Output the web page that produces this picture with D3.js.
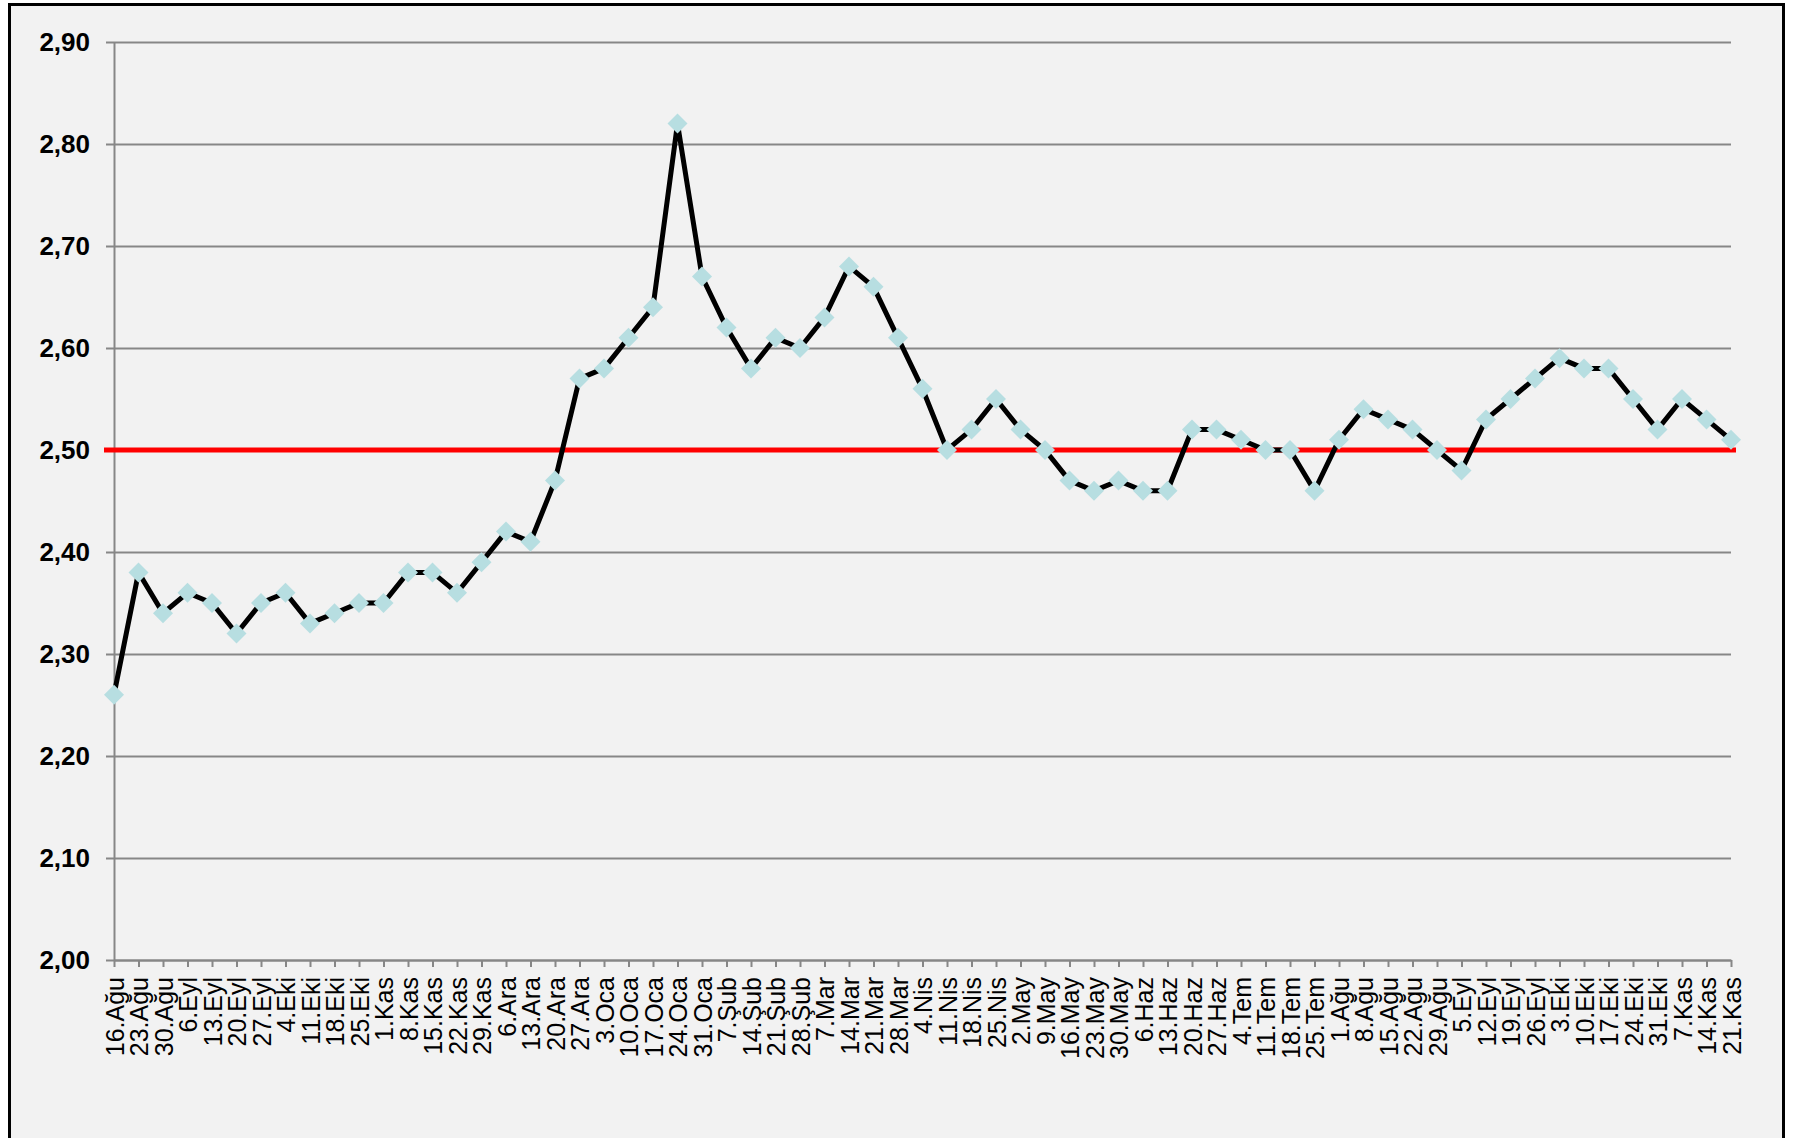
<!DOCTYPE html>
<html>
<head>
<meta charset="utf-8">
<script src="https://cdn.jsdelivr.net/npm/d3@7"></script>
<style>
  body { margin: 0; background: #fff; }
  svg { display: block; }
</style>
</head>
<body>
<svg id="chart" width="1795" height="1138"></svg>
<script>

var weeks = [
  "16.Ağu", "23.Ağu", "30.Ağu", "6.Eyl", "13.Eyl", "20.Eyl", "27.Eyl",
  "4.Eki", "11.Eki", "18.Eki", "25.Eki", "1.Kas", "8.Kas", "15.Kas", "22.Kas", "29.Kas",
  "6.Ara", "13.Ara", "20.Ara", "27.Ara", "3.Oca", "10.Oca", "17.Oca", "24.Oca", "31.Oca",
  "7.Şub", "14.Şub", "21.Şub", "28.Şub", "7.Mar", "14.Mar", "21.Mar", "28.Mar",
  "4.Nis", "11.Nis", "18.Nis", "25.Nis", "2.May", "9.May", "16.May", "23.May", "30.May",
  "6.Haz", "13.Haz", "20.Haz", "27.Haz", "4.Tem", "11.Tem", "18.Tem", "25.Tem",
  "1.Ağu", "8.Ağu", "15.Ağu", "22.Ağu", "29.Ağu", "5.Eyl", "12.Eyl", "19.Eyl", "26.Eyl",
  "3.Eki", "10.Eki", "17.Eki", "24.Eki", "31.Eki", "7.Kas", "14.Kas", "21.Kas"
]

var values = [
  2.26, 2.38, 2.34, 2.36, 2.35, 2.32, 2.35,
  2.36, 2.33, 2.34, 2.35, 2.35, 2.38, 2.38, 2.36, 2.39,
  2.42, 2.41, 2.47, 2.57, 2.58, 2.61, 2.64, 2.82, 2.67,
  2.62, 2.58, 2.61, 2.60, 2.63, 2.68, 2.66, 2.61,
  2.56, 2.50, 2.52, 2.55, 2.52, 2.50, 2.47, 2.46, 2.47,
  2.46, 2.46, 2.52, 2.52, 2.51, 2.50, 2.50, 2.46,
  2.51, 2.54, 2.53, 2.52, 2.50, 2.48, 2.53, 2.55, 2.57,
  2.59, 2.58, 2.58, 2.55, 2.52, 2.55, 2.53, 2.51
]

var target = 2.50
var yTicks = [2.0, 2.1, 2.2, 2.3, 2.4, 2.5, 2.6, 2.7, 2.8, 2.9]

var svg = d3.select("#chart")

// panel
svg.append("rect")
    .attr("x", 9.5).attr("y", 4.5)
    .attr("width", 1774).attr("height", 1200)
    .style("fill", "#f2f2f2")
    .style("stroke", "#000")
    .style("stroke-width", 3)

var plotLeft = 114, plotRight = 1731, plotTop = 42, plotBottom = 960

var x = d3.scalePoint().domain(weeks).range([plotLeft, plotRight])
var y = d3.scaleLinear().domain([2.0, 2.9]).range([plotBottom, plotTop])

var fmt = function(d){ return d3.format(".2f")(d).replace(".", ",") }

// grid lines
svg.append("g")
    .attr("transform", "translate(" + plotLeft + ",0)")
    .call(d3.axisLeft(y).tickValues(yTicks).tickFormat("").tickSize(-(plotRight - plotLeft)).tickSizeOuter(0))
    .call(function(g){
      g.select(".domain").remove()
      g.selectAll("line").style("stroke", "#878787").style("stroke-width", 2)
    })

// y axis
svg.append("g")
    .attr("transform", "translate(" + plotLeft + ",0)")
    .call(d3.axisLeft(y).tickValues(yTicks).tickFormat(fmt).tickSize(8).tickSizeOuter(0).tickPadding(16))
    .call(function(g){
      g.select(".domain").style("stroke", "#878787").style("stroke-width", 2)
      g.selectAll("line").style("stroke", "#878787").style("stroke-width", 2)
      g.selectAll("text")
          .style("font-family", "'Liberation Sans', Arial, sans-serif")
          .style("font-size", "26px")
          .style("font-weight", "bold")
          .style("fill", "#000")
    })

// x axis
svg.append("g")
    .attr("transform", "translate(0," + plotBottom + ")")
    .call(d3.axisBottom(x).tickSize(7).tickSizeOuter(0))
    .call(function(g){
      g.select(".domain").style("stroke", "#878787").style("stroke-width", 2)
      g.selectAll("line").style("stroke", "#878787").style("stroke-width", 2)
      g.selectAll("text")
          .attr("transform", "rotate(-90)")
          .attr("x", -17)
          .attr("y", 0)
          .attr("dy", "0.36em")
          .style("text-anchor", "end")
          .style("font-family", "'Liberation Sans', Arial, sans-serif")
          .style("font-size", "25px")
          .style("fill", "#000")
    })

// target line at 2,50
svg.append("line")
    .attr("x1", plotLeft - 10).attr("x2", plotRight + 5)
    .attr("y1", y(target)).attr("y2", y(target))
    .style("stroke", "#ff0000")
    .style("stroke-width", 5)

// series line
var line = d3.line()
    .x(function(d, i){ return x(weeks[i]) })
    .y(function(d){ return y(d) })

svg.append("path")
    .datum(values)
    .attr("d", line)
    .style("fill", "none")
    .style("stroke", "#000")
    .style("stroke-width", 5)
    .style("stroke-linejoin", "miter")

// diamond markers
svg.selectAll(".marker")
    .data(values)
  .enter().append("path")
    .attr("class", "marker")
    .attr("d", d3.symbol(d3.symbolSquare, 200))
    .attr("transform", function(d, i){ return "translate(" + x(weeks[i]) + "," + y(d) + ") rotate(45)" })
    .style("fill", "#b7dee1")

</script>
</body>
</html>
